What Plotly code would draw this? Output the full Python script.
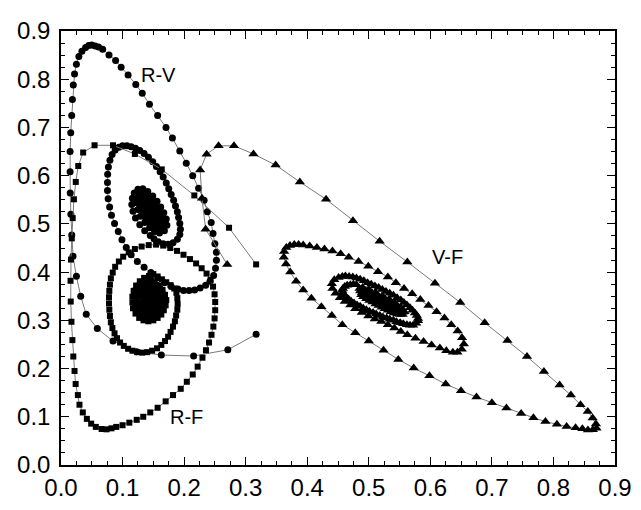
import plotly.graph_objects as go

# ---------------- data ----------------
# R-V trajectory (circles): approach, first loop, converging core
rv_approach = [(0.317,0.271),(0.271,0.239),(0.2155,0.226),(0.163,0.228),(0.123,0.235),(0.0845,0.257),
    (0.059,0.283),(0.041,0.3125),(0.032,0.350),(0.025,0.3915),(0.0195,0.433),(0.0175,0.477),(0.016,0.520),
    (0.015,0.564),(0.0148,0.608),(0.0148,0.650),(0.0158,0.689),(0.0174,0.725),(0.0185,0.758),(0.020,0.788),
    (0.022,0.811),(0.025,0.831),(0.029,0.847),(0.034,0.858),(0.040,0.866),(0.045,0.870),(0.050,0.871),
    (0.0555,0.869),(0.061,0.867),(0.0677,0.862),(0.078,0.850),(0.0887,0.839),(0.0977,0.825),(0.109,0.809),
    (0.1215,0.789),(0.132,0.771),(0.1437,0.748),(0.157,0.725),(0.1706,0.700),(0.181,0.678),(0.193,0.651),
    (0.2035,0.626),(0.214,0.600),(0.2235,0.574),(0.2325,0.549),(0.2377,0.525),(0.244,0.503),(0.247,0.480),
    (0.250,0.459),(0.2525,0.441),(0.2525,0.4245),(0.251,0.408),(0.248,0.393)]
rv_ring = [(0.242,0.381),(0.235,0.373),(0.226,0.367),(0.217,0.363),(0.208,0.362),(0.199,0.362),(0.190,0.365),
    (0.179,0.370),(0.168,0.378),(0.157,0.388),(0.146,0.399),(0.135,0.410),(0.124,0.422),(0.114,0.436),
    (0.106,0.451),(0.099,0.467),(0.093,0.484),(0.087,0.501),(0.082,0.518),(0.079,0.535),(0.0766,0.552),
    (0.0755,0.569),(0.0755,0.586),(0.0758,0.603),(0.077,0.618),(0.0795,0.632),(0.083,0.644),(0.088,0.653),
    (0.094,0.659),(0.100,0.662),(0.107,0.662),(0.114,0.660),(0.121,0.657),(0.128,0.652),(0.135,0.646),
    (0.142,0.638),(0.149,0.629),(0.155,0.619),(0.161,0.608),(0.166,0.597),(0.171,0.585),(0.175,0.573),
    (0.179,0.561),(0.183,0.549),(0.186,0.537),(0.189,0.525),(0.191,0.513),(0.193,0.501),(0.194,0.489),
    (0.193,0.478),(0.189,0.468),(0.182,0.461),(0.174,0.458),(0.166,0.459),(0.158,0.463),(0.151,0.469),
    (0.145,0.476)]
rv_core = [(0.136,0.486),(0.128,0.498),(0.121,0.512),(0.117,0.526),(0.115,0.540),(0.116,0.553),(0.119,0.564),
    (0.125,0.572),(0.133,0.573),(0.141,0.567),(0.149,0.558),(0.156,0.547),(0.162,0.535),(0.167,0.523),
    (0.171,0.510),(0.172,0.497),(0.168,0.486),(0.160,0.481),(0.152,0.484),(0.144,0.492),(0.136,0.503),
    (0.129,0.516),(0.125,0.530),(0.124,0.544),(0.127,0.556),(0.134,0.561),(0.142,0.555),(0.149,0.545),
    (0.155,0.532),(0.160,0.519),(0.162,0.506),(0.158,0.496),(0.150,0.496),(0.143,0.504),(0.136,0.516),
    (0.132,0.530),(0.133,0.543),(0.139,0.546),(0.146,0.537),(0.151,0.524),(0.152,0.512),(0.146,0.510),
    (0.140,0.519),(0.138,0.530),(0.142,0.531),(0.145,0.522)]
rv_core_late = [(0.131,0.566),(0.139,0.562),(0.146,0.553),(0.153,0.543),(0.159,0.531),(0.164,0.519),
    (0.167,0.506),(0.167,0.494),(0.162,0.487),(0.155,0.489),(0.147,0.496),(0.139,0.506),(0.132,0.518),
    (0.127,0.531),(0.122,0.545),(0.121,0.557),(0.125,0.565),(0.137,0.552),(0.144,0.545),(0.150,0.535),
    (0.155,0.523),(0.157,0.511),(0.154,0.503),(0.146,0.503),(0.139,0.512),(0.134,0.523),(0.129,0.536),
    (0.129,0.548),(0.136,0.538),(0.142,0.527),(0.147,0.517)]

# R-F trajectory (squares)
rf_approach = [(0.317,0.416),(0.273,0.492),(0.2166,0.559),(0.1637,0.613),(0.120,0.645),(0.0845,0.663),
    (0.0545,0.663),(0.036,0.648),(0.028,0.620),(0.024,0.587),(0.021,0.551),(0.019,0.512),(0.0175,0.470),
    (0.0162,0.426),(0.0155,0.382),(0.0158,0.339),(0.017,0.297),(0.0185,0.259),(0.020,0.225),(0.022,0.195),
    (0.0238,0.168),(0.0274,0.145),(0.030,0.125),(0.0354,0.109),(0.042,0.0957),(0.049,0.0858),(0.0565,0.079),
    (0.066,0.0746),(0.074,0.074),(0.082,0.076),(0.0898,0.079),(0.100,0.0825),(0.111,0.0878),(0.123,0.0937),
    (0.1336,0.100),(0.145,0.109),(0.157,0.1187),(0.170,0.132),(0.182,0.145),(0.1945,0.158),(0.2044,0.1726),
    (0.214,0.1877),(0.222,0.204),(0.2298,0.2225),(0.2355,0.238),(0.2405,0.254),(0.2445,0.270),(0.2475,0.287),
    (0.2495,0.304),(0.2505,0.321),(0.2505,0.338),(0.2495,0.354),(0.247,0.370),(0.243,0.384),(0.2365,0.397),
    (0.2285,0.408),(0.2195,0.418),(0.2095,0.427),(0.199,0.436),(0.1885,0.444),(0.1775,0.450),(0.166,0.455),
    (0.1545,0.457),(0.1425,0.456),(0.131,0.453),(0.120,0.448),(0.110,0.441),(0.101,0.432),(0.094,0.422),
    (0.088,0.411),(0.084,0.399),(0.081,0.387),(0.0795,0.374),(0.0785,0.361),(0.078,0.348),(0.078,0.335),
    (0.0785,0.322),(0.0795,0.309),(0.081,0.296),(0.0835,0.284),(0.087,0.273),(0.091,0.263),(0.096,0.254),
    (0.102,0.247),(0.109,0.241),(0.116,0.237),(0.124,0.234),(0.132,0.233),(0.140,0.234),(0.148,0.237),
    (0.156,0.242),(0.163,0.249),(0.169,0.257),(0.174,0.266),(0.178,0.276),(0.182,0.287),(0.185,0.298),
    (0.187,0.310),(0.189,0.322),(0.1895,0.334),(0.189,0.346),(0.1875,0.357),(0.184,0.366),(0.178,0.373),
    (0.171,0.379),(0.164,0.385),(0.157,0.391),(0.150,0.396)]
rf_core = [(0.143,0.392),(0.135,0.388),(0.128,0.381),(0.122,0.372),(0.118,0.361),(0.116,0.349),(0.116,0.337),
    (0.117,0.325),(0.121,0.314),(0.127,0.305),(0.134,0.300),(0.142,0.298),(0.150,0.300),(0.157,0.305),
    (0.163,0.312),(0.167,0.321),(0.170,0.331),(0.171,0.342),(0.169,0.353),(0.165,0.363),(0.159,0.372),
    (0.152,0.379),(0.145,0.382),(0.137,0.378),(0.130,0.370),(0.126,0.360),(0.124,0.348),(0.124,0.336),
    (0.127,0.324),(0.133,0.315),(0.141,0.310),(0.149,0.312),(0.156,0.318),(0.161,0.328),(0.163,0.340),
    (0.161,0.352),(0.156,0.362),(0.149,0.369),(0.141,0.370),(0.134,0.362),(0.131,0.350),(0.131,0.337),
    (0.135,0.326),(0.142,0.321),(0.150,0.325),(0.155,0.335),(0.155,0.347),(0.150,0.357),(0.143,0.359),
    (0.139,0.349),(0.139,0.337),(0.145,0.333),(0.149,0.341),(0.146,0.348),(0.143,0.343)]
rf_core_late = [(0.146,0.388),(0.139,0.385),(0.132,0.380),(0.126,0.372),(0.121,0.362),(0.119,0.350),
    (0.120,0.337),(0.121,0.326),(0.125,0.316),(0.131,0.308),(0.138,0.304),(0.146,0.304),(0.153,0.307),
    (0.159,0.313),(0.164,0.322),(0.166,0.333),(0.167,0.344),(0.165,0.355),(0.161,0.365),(0.155,0.373),
    (0.148,0.377),(0.142,0.375),(0.135,0.371),(0.130,0.362),(0.127,0.350),(0.128,0.337),(0.131,0.327),
    (0.137,0.319),(0.145,0.316),(0.152,0.319),(0.157,0.328),(0.159,0.340),(0.158,0.351),(0.153,0.360),
    (0.147,0.365),(0.140,0.364),(0.135,0.355),(0.135,0.343),(0.139,0.331),(0.146,0.327),(0.152,0.333),
    (0.152,0.345),(0.147,0.353)]

# V-F trajectory (triangles)
vf_outer = [(0.270,0.416),(0.235,0.489),(0.229,0.553),(0.226,0.612),(0.2366,0.6446),(0.256,0.662),(0.281,0.662),
    (0.3127,0.645),(0.3487,0.622),(0.388,0.587),(0.4306,0.551),(0.4743,0.5065),(0.5177,0.464),(0.5626,0.421),
    (0.6075,0.377),(0.6486,0.337),(0.6883,0.295),(0.7253,0.258),(0.757,0.225),(0.7845,0.194),(0.810,0.166),
    (0.8283,0.145),(0.844,0.125),(0.8558,0.111),(0.8637,0.0976),(0.869,0.085),(0.870,0.076),(0.864,0.073),
    (0.856,0.0726),(0.847,0.075),(0.836,0.077),(0.8214,0.080),(0.8056,0.0845),(0.787,0.090),(0.7675,0.098),
    (0.7475,0.107),(0.7237,0.118),(0.700,0.129),(0.675,0.141),(0.6498,0.154),(0.625,0.168),(0.5986,0.185),
    (0.573,0.201),(0.548,0.219),(0.524,0.238),(0.500,0.257),(0.478,0.274),(0.457,0.291),(0.440,0.310),
    (0.423,0.328),(0.4068,0.346),(0.3935,0.363),(0.382,0.381),(0.3724,0.400),(0.3655,0.417),(0.362,0.431)]
vf_second = [(0.3625,0.443),(0.366,0.451),(0.372,0.455),(0.379,0.457),(0.386,0.457),(0.3935,0.456),(0.404,0.454),
    (0.4157,0.451),(0.428,0.448),(0.441,0.444),(0.4543,0.438),(0.4675,0.431),(0.4834,0.422),(0.4992,0.412),
    (0.515,0.401),(0.531,0.390),(0.544,0.378),(0.5573,0.366),(0.5705,0.355),(0.5837,0.343),(0.597,0.331),
    (0.6101,0.318),(0.623,0.305),(0.634,0.291),(0.6444,0.278),(0.6515,0.264),(0.6545,0.251),(0.651,0.240),
    (0.644,0.234),(0.6366,0.234),(0.626,0.237),(0.6155,0.2425),(0.602,0.249),(0.589,0.256),(0.5758,0.263),
    (0.5626,0.270),(0.552,0.277),(0.5415,0.284),(0.531,0.291),(0.5204,0.2975),(0.5098,0.303),(0.4992,0.309),
    (0.4887,0.316),(0.478,0.324),(0.470,0.332),(0.461,0.339),(0.453,0.347),(0.446,0.356),(0.441,0.366),
    (0.440,0.376)]
vf_third = [(0.444,0.384),(0.451,0.389),(0.457,0.391),(0.462,0.392),(0.468,0.391),(0.474,0.390),(0.480,0.388),
    (0.486,0.385),(0.492,0.382),(0.498,0.378),(0.504,0.375),(0.510,0.371),(0.516,0.368),(0.522,0.364),
    (0.528,0.360),(0.534,0.356),(0.540,0.352),(0.546,0.347),(0.552,0.342),(0.557,0.337),(0.562,0.332),
    (0.567,0.326),(0.571,0.321),(0.575,0.315),(0.578,0.310),(0.580,0.304),(0.580,0.299),(0.577,0.294),
    (0.572,0.290),(0.567,0.290),(0.562,0.291),(0.556,0.293),(0.551,0.295),(0.545,0.297),(0.540,0.300),
    (0.534,0.302),(0.529,0.305),(0.523,0.307),(0.518,0.310),(0.512,0.313),(0.507,0.316),(0.501,0.319),
    (0.496,0.322),(0.491,0.325),(0.486,0.329),(0.481,0.332),(0.476,0.336),(0.471,0.340),(0.467,0.344),
    (0.463,0.348),(0.460,0.353),(0.458,0.357),(0.457,0.362),(0.458,0.366),(0.461,0.370),(0.465,0.373),
    (0.470,0.374),(0.475,0.375),(0.480,0.374)]
vf_core = [(0.490,0.368),(0.500,0.364),(0.511,0.358),(0.522,0.351),(0.533,0.344),(0.543,0.336),(0.552,0.327),
    (0.558,0.318),(0.555,0.312),(0.546,0.313),(0.536,0.318),(0.526,0.324),(0.516,0.331),(0.506,0.338),
    (0.496,0.345),(0.488,0.353),(0.486,0.361),(0.495,0.359),(0.505,0.354),(0.515,0.347),(0.525,0.340),
    (0.535,0.333),(0.544,0.325),(0.548,0.319),(0.540,0.321),(0.530,0.328),(0.520,0.335),(0.510,0.342),
    (0.500,0.349),(0.510,0.346),(0.520,0.340),(0.530,0.333),(0.537,0.328),(0.528,0.333),(0.518,0.339)]
vf_core_late = [(0.485,0.366),(0.495,0.362),(0.505,0.357),(0.516,0.350),(0.527,0.343),(0.538,0.335),
    (0.548,0.326),(0.555,0.317),(0.551,0.312),(0.541,0.315),(0.531,0.321),(0.521,0.327),(0.511,0.334),
    (0.501,0.341),(0.491,0.349),(0.489,0.357),(0.500,0.355),(0.510,0.349),(0.520,0.343),(0.530,0.336),
    (0.540,0.329),(0.545,0.322),(0.535,0.324),(0.525,0.331),(0.515,0.338),(0.505,0.345),(0.515,0.343),
    (0.525,0.337),(0.535,0.330)]

series_names = ["R-V", "R-F", "V-F"]
label_pos = [(0.158, 0.809), (0.2033, 0.099), (0.6286, 0.431)]
tick_vals = [0.0, 0.1, 0.2, 0.3, 0.4, 0.5, 0.6, 0.7, 0.8, 0.9]
tick_text = ["0.0", "0.1", "0.2", "0.3", "0.4", "0.5", "0.6", "0.7", "0.8", "0.9"]

# ---------------- figure ----------------
rv = rv_approach + rv_ring + rv_core + rv_core_late
rf = rf_approach + rf_core + rf_core_late
vf = vf_outer + vf_second + vf_third + vf_core + vf_core_late

styles = [("circle", 7), ("square", 6), ("triangle-up", 9)]
fig = go.Figure()
for name, pts, (sym, sz) in zip(series_names, [rv, rf, vf], styles):
    fig.add_trace(go.Scatter(
        x=[p[0] for p in pts], y=[p[1] for p in pts], mode="lines+markers", name=name,
        line=dict(color="#7a7a7a", width=1),
        marker=dict(symbol=sym, size=sz, color="black", line=dict(width=0)),
        showlegend=False, cliponaxis=False))

for name, (lx, ly) in zip(series_names, label_pos):
    fig.add_annotation(x=lx, y=ly, text=name, showarrow=False,
                       font=dict(family="Liberation Sans, Arial, sans-serif", size=20, color="black"))

axis_common = dict(
    range=[0, 0.9], tickmode="array", tickvals=tick_vals, ticktext=tick_text,
    ticks="inside", ticklen=8, tickwidth=1, tickcolor="black",
    showline=True, linecolor="black", linewidth=1.5, mirror="allticks",
    showgrid=False, zeroline=False, ticklabeloverflow="allow",
    tickfont=dict(family="Liberation Sans, Arial, sans-serif", size=24, color="black"),
    minor=dict(tickmode="linear", tick0=0, dtick=0.025, ticks="inside", ticklen=4,
               tickwidth=1, tickcolor="black", showgrid=False),
)
fig.update_xaxes(**axis_common)
fig.update_yaxes(**axis_common, ticklabelstandoff=4)
# the page body has an 8px default margin, so the figure is 8px smaller than the window
fig.update_layout(width=633, height=502, margin=dict(l=47, r=18, t=9, b=37),
                  paper_bgcolor="white", plot_bgcolor="white")
fig.write_html("out.html")
